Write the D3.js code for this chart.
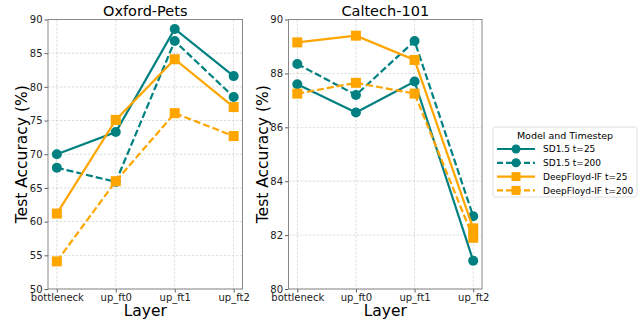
<!DOCTYPE html>
<html>
<head>
<meta charset="utf-8">
<script src="https://cdn.jsdelivr.net/npm/d3@7"></script>
<style>
  body { margin: 0; background: #fff; }
  text { font-family: "DejaVu Sans", sans-serif; }
</style>
</head>
<body>
<script>
const layers = ["bottleneck", "up_ft0", "up_ft1", "up_ft2"];

const seriesNames = ["SD1.5 t=25", "SD1.5 t=200", "DeepFloyd-IF t=25", "DeepFloyd-IF t=200"];

const petsSd25 = [70.0, 73.3, 88.6, 81.6];
const petsSd200 = [68.0, 65.9, 86.8, 78.5];
const petsDf25 = [61.2, 75.1, 84.1, 77.0];
const petsDf200 = [54.1, 66.0, 76.1, 72.7];

const calSd25 = [87.6, 86.55, 87.7, 81.05];
const calSd200 = [88.35, 87.2, 89.2, 82.7];
const calDf25 = [89.15, 89.4, 88.5, 82.25];
const calDf200 = [87.25, 87.65, 87.25, 81.9];

const petsTicks = [50, 55, 60, 65, 70, 75, 80, 85, 90];
const calTicks = [80, 82, 84, 86, 88, 90];

const teal = "#008080", orange = "#FFA500";
const styles = [
  {color: teal, dash: null, marker: "circle"},
  {color: teal, dash: "7,3", marker: "circle"},
  {color: orange, dash: null, marker: "square"},
  {color: orange, dash: "7,3", marker: "square"}
];

const width = 644, height = 320;
const svg = d3.select("body").append("svg")
  .attr("width", width)
  .attr("height", height);

function panel(x0, x1, title, domain, ticks, series) {
  const top = 19.5, bottom = 289;
  const x = d3.scalePoint().domain(layers).range([x0, x1]).padding(0.15);
  const y = d3.scaleLinear().domain(domain).range([bottom, top]);
  const g = svg.append("g");

  // grid
  g.append("g").selectAll("line").data(ticks).enter().append("line")
    .attr("x1", x0).attr("x2", x1)
    .attr("y1", d => y(d)).attr("y2", d => y(d))
    .attr("stroke", "#b0b0b0").attr("stroke-width", 0.6)
    .attr("stroke-dasharray", "2.5,1.5").attr("opacity", 0.7);
  g.append("g").selectAll("line").data(layers).enter().append("line")
    .attr("x1", d => x(d)).attr("x2", d => x(d))
    .attr("y1", top).attr("y2", bottom)
    .attr("stroke", "#b0b0b0").attr("stroke-width", 0.6)
    .attr("stroke-dasharray", "2.5,1.5").attr("opacity", 0.7);

  // axes
  const yAxis = d3.axisLeft(y).tickValues(ticks).tickSize(3.5).tickPadding(2);
  const xAxis = d3.axisBottom(x).tickSize(3.5).tickPadding(1.5);
  const ya = g.append("g").attr("transform", `translate(${x0},0)`).call(yAxis);
  const xa = g.append("g").attr("transform", `translate(0,${bottom})`).call(xAxis);
  [ya, xa].forEach(a => {
    a.select(".domain").remove();
    a.selectAll("line").attr("stroke", "#333").attr("stroke-width", 0.8);
    a.selectAll("text").attr("font-size", "10px").attr("fill", "#222")
      .attr("font-family", "DejaVu Sans");
  });

  g.append("rect")
    .attr("x", x0).attr("y", top)
    .attr("width", x1 - x0).attr("height", bottom - top)
    .attr("fill", "none").attr("stroke", "#888").attr("stroke-width", 1);

  // lines
  const line = d3.line().x((d, i) => x(layers[i])).y(d => y(d));
  series.forEach((vals, k) => {
    const s = styles[k];
    g.append("path").datum(vals)
      .attr("d", line)
      .attr("fill", "none")
      .attr("stroke", s.color)
      .attr("stroke-width", 2.2)
      .attr("stroke-dasharray", s.dash);
    const m = g.append("g").selectAll(".m").data(vals).enter();
    if (s.marker === "circle") {
      m.append("circle")
        .attr("cx", (d, i) => x(layers[i])).attr("cy", d => y(d))
        .attr("r", 5).attr("fill", s.color);
    } else {
      m.append("rect")
        .attr("x", (d, i) => x(layers[i]) - 5).attr("y", d => y(d) - 5)
        .attr("width", 10).attr("height", 10).attr("fill", s.color);
    }
  });

  g.append("text")
    .attr("x", (x0 + x1) / 2).attr("y", 16)
    .attr("text-anchor", "middle").attr("font-size", "14.5px")
    .text(title);
  g.append("text")
    .attr("x", (x0 + x1) / 2).attr("y", 316)
    .attr("text-anchor", "middle").attr("font-size", "15.5px")
    .text("Layer");
  g.append("text")
    .attr("transform", `translate(${x0 - 21},${(top + bottom) / 2}) rotate(-90)`)
    .attr("text-anchor", "middle").attr("font-size", "15.5px")
    .text("Test Accuracy (%)");
}

panel(48, 242.5, "Oxford-Pets", [50, 90], petsTicks,
  [petsSd25, petsSd200, petsDf25, petsDf200]);
panel(288.5, 482, "Caltech-101", [80, 90], calTicks,
  [calSd25, calSd200, calDf25, calDf200]);

// legend
const lg = svg.append("g").attr("transform", "translate(493,127)");
lg.append("rect")
  .attr("width", 144).attr("height", 70).attr("rx", 2.5)
  .attr("fill", "#fff").attr("stroke", "#d6d6d6").attr("stroke-width", 0.8);
lg.append("text")
  .attr("x", 72).attr("y", 12).attr("text-anchor", "middle")
  .attr("font-size", "9.5px").text("Model and Timestep");
seriesNames.forEach((name, k) => {
  const s = styles[k];
  const cy = 22 + k * 13.8;
  const row = lg.append("g").attr("transform", `translate(0,${cy})`);
  row.append("line")
    .attr("x1", 4).attr("x2", 42).attr("y1", 0).attr("y2", 0)
    .attr("stroke", s.color).attr("stroke-width", 2.2)
    .attr("stroke-dasharray", s.dash ? "6,3" : null);
  if (s.marker === "circle") {
    row.append("circle").attr("cx", 23).attr("cy", 0).attr("r", 4.5).attr("fill", s.color);
  } else {
    row.append("rect").attr("x", 18.5).attr("y", -4.5).attr("width", 9).attr("height", 9)
      .attr("fill", s.color);
  }
  row.append("text")
    .attr("x", 50).attr("y", 3.3).attr("font-size", "9px").text(name);
});
</script>
</body>
</html>
